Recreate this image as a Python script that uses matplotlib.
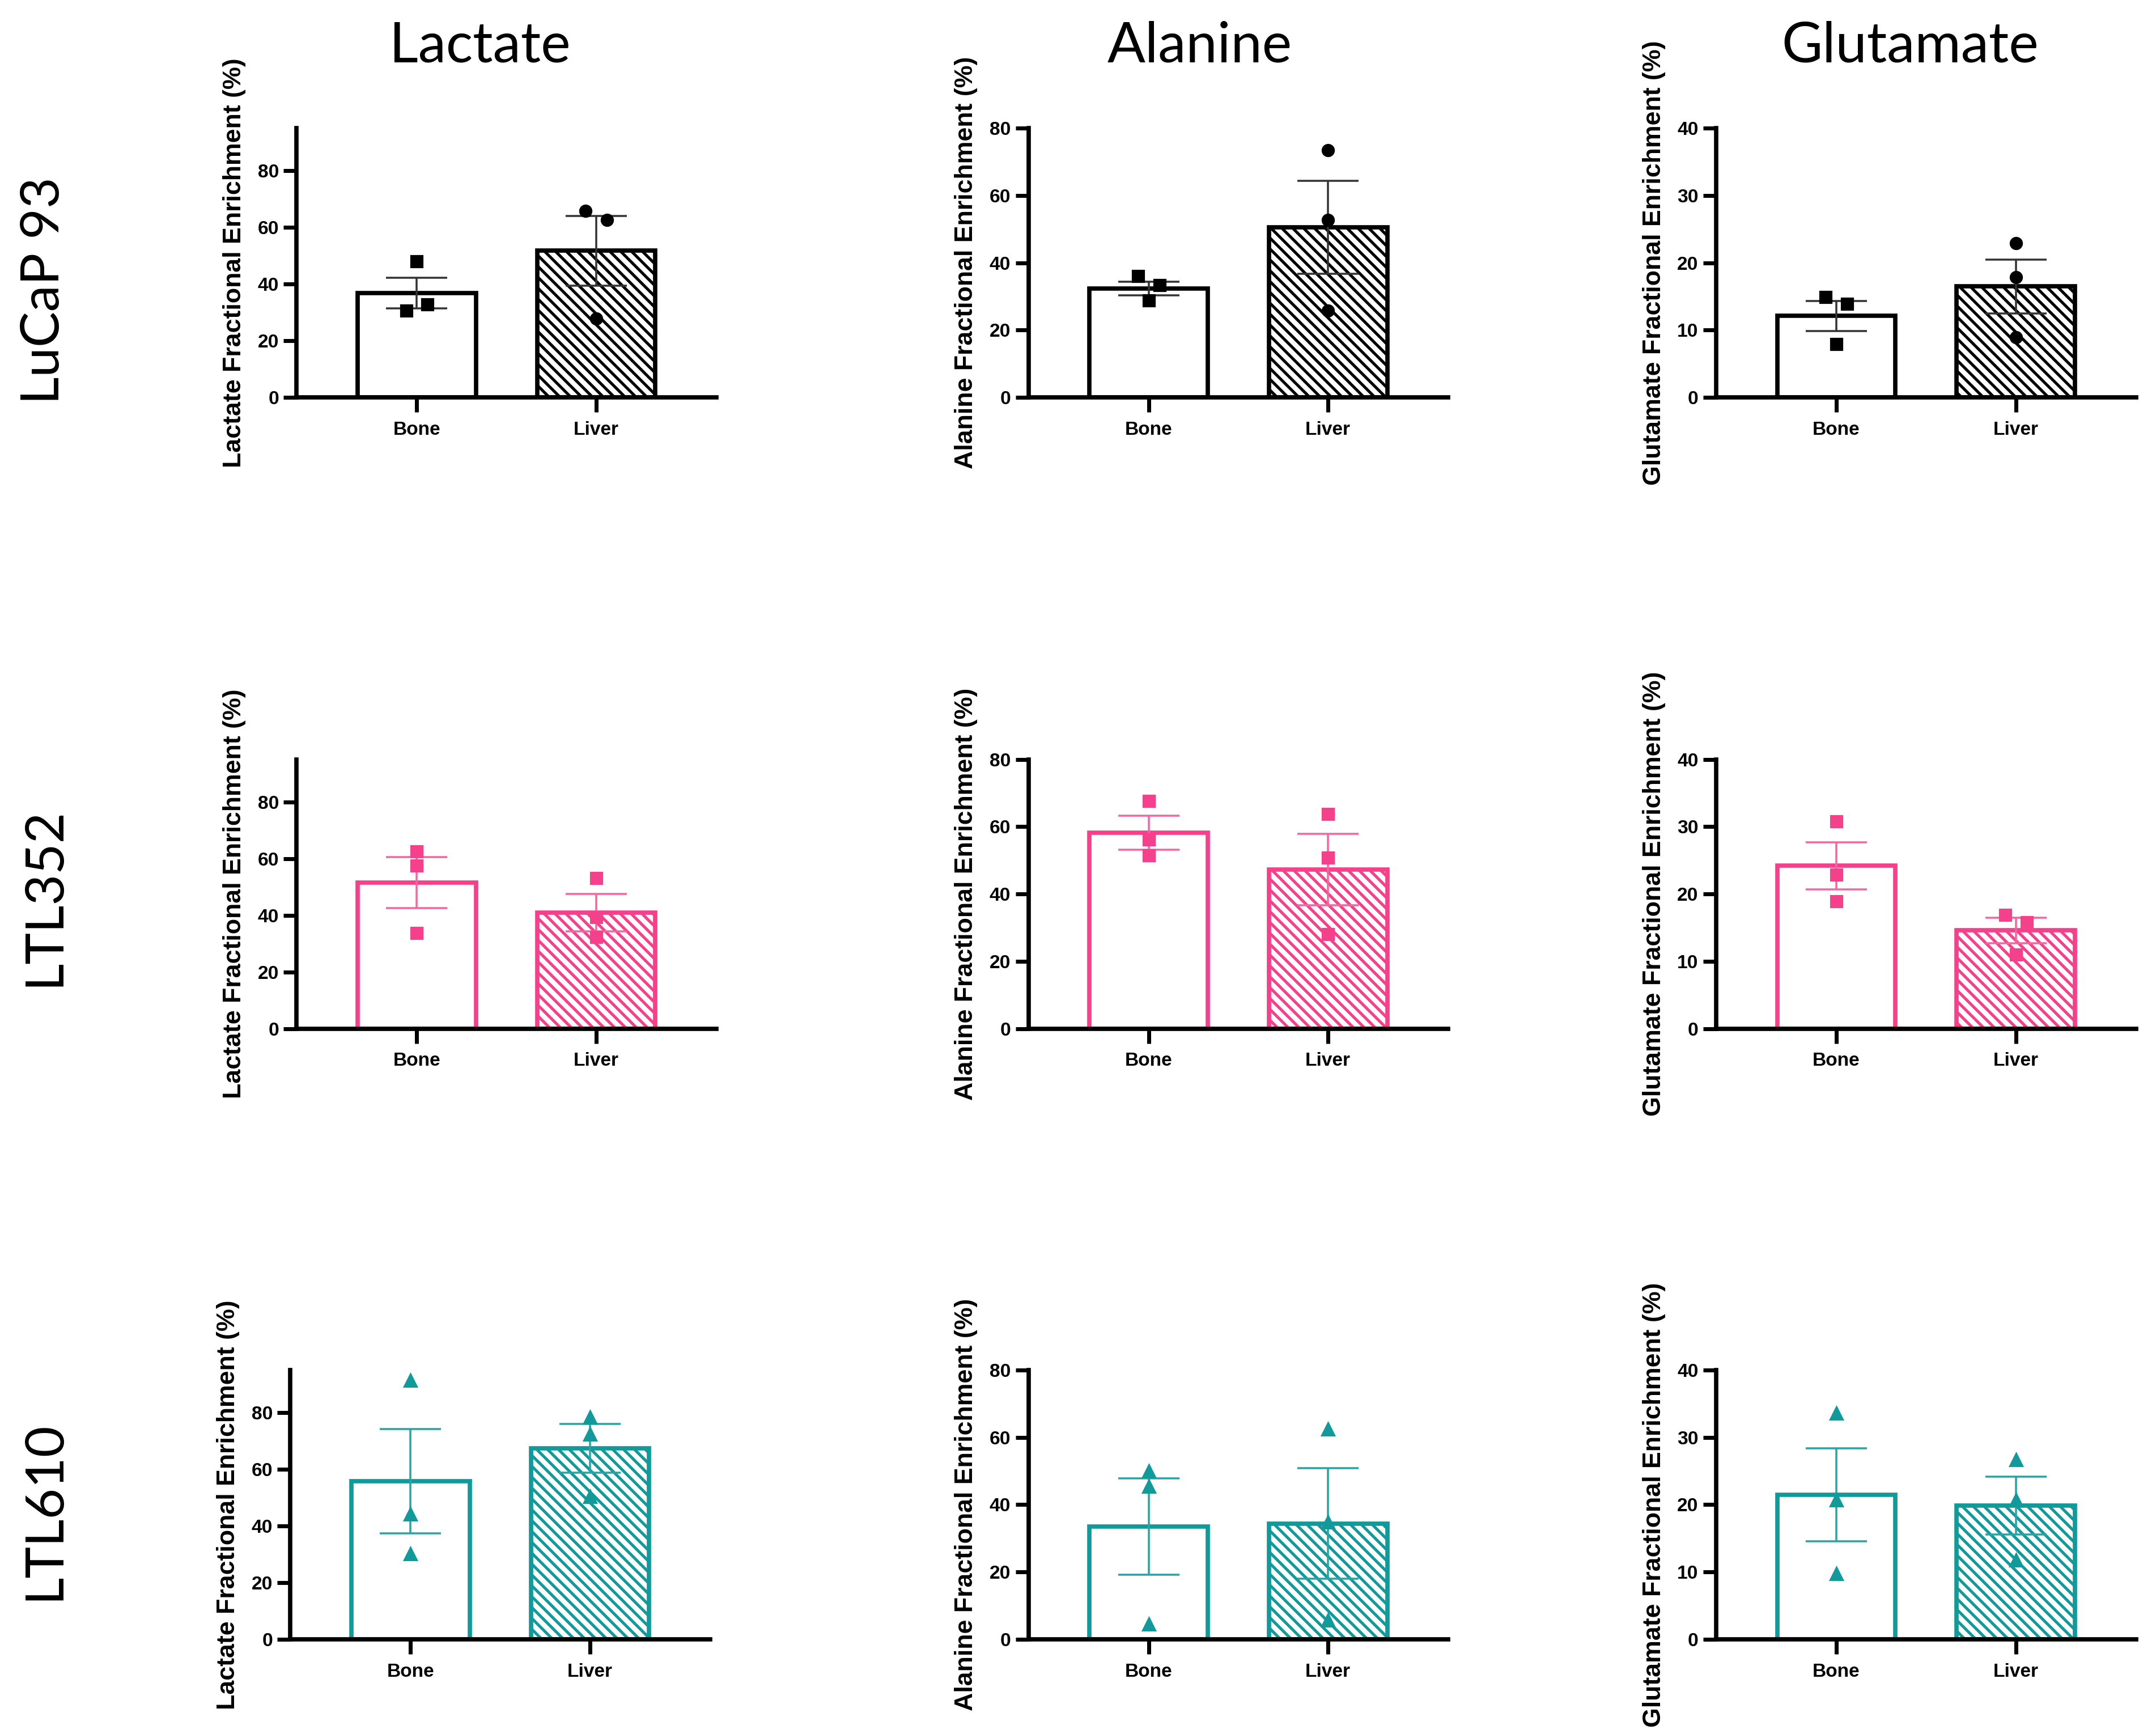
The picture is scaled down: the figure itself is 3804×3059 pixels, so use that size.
import matplotlib
matplotlib.use("Agg")
import matplotlib.pyplot as plt

# ── Data ──────────────────────────────────────────────────────────────────────
ROW_LABELS  = ["LuCaP 93", "LTL352", "LTL610"]
METABOLITES = ["Lactate", "Alanine", "Glutamate"]
SITES       = ["Bone", "Liver"]

# LuCaP 93  (order: Lactate, Alanine, Glutamate)
lucap_bone_mean  = [36.8, 32.4, 12.1]
lucap_bone_sem   = [5.4, 2.0, 2.2]
lucap_liver_mean = [51.8, 50.6, 16.5]
lucap_liver_sem  = [12.3, 13.8, 4.0]
lucap_bone_pts   = [[48.0, 30.6, 32.8], [36.0, 33.4, 28.8], [14.9, 13.9, 7.9]]
lucap_liver_pts  = [[65.8, 62.6, 27.8], [73.5, 52.7, 25.8], [22.9, 17.9, 8.9]]

# LTL352
ltl352_bone_mean  = [51.5, 58.2, 24.2]
ltl352_bone_sem   = [9.0, 5.0, 3.5]
ltl352_liver_mean = [40.9, 47.2, 14.6]
ltl352_liver_sem  = [6.6, 10.6, 1.9]
ltl352_bone_pts   = [[62.5, 57.5, 33.7], [67.6, 56.2, 51.5], [30.8, 22.9, 18.9]]
ltl352_liver_pts  = [[53.1, 39.3, 32.3], [63.8, 50.8, 28.0], [16.9, 15.8, 11.0]]

# LTL610
ltl610_bone_mean  = [55.8, 33.5, 21.5]
ltl610_bone_sem   = [18.4, 14.3, 6.9]
ltl610_liver_mean = [67.4, 34.4, 19.9]
ltl610_liver_sem  = [8.6, 16.4, 4.3]
ltl610_bone_pts   = [[91.3, 44.2, 30.2], [50.0, 45.5, 4.6], [33.6, 20.7, 9.8]]
ltl610_liver_pts  = [[78.4, 72.4, 50.4], [62.5, 34.9, 5.7], [26.7, 20.7, 11.8]]

Y_TOP   = [95, 80, 40]
Y_TICKS = [[0, 20, 40, 60, 80], [0, 20, 40, 60, 80], [0, 10, 20, 30, 40]]

# ── Styling / layout ──────────────────────────────────────────────────────────
DPI         = 230
COLORS      = ["#000000", "#F5418B", "#12999A"]
ERR_COLORS  = ["#333333", "#F2679F", "#2AA3A3"]
BONE_MARK   = ["s", "s", "^"]
LIVER_MARK  = ["o", "s", "^"]
TICK_FONT   = "Liberation Sans"
TITLE_FONT  = "Lato"
HATCH       = chr(92) * 4      # dense back-slash stripes

LEFTS   = [0.1376, 0.4770, 0.7960]
BOTTOMS = [0.7708, 0.4068, 0.0546]
AX_W, AX_H = 0.1947, 0.1553

# sideways nudge of overlapping points (Prism-style scatter)
J = 0.06
JITTER = {
    (0, 0, 0): [0, -J, J], (0, 0, 1): [-J, J, 0],
    (0, 1, 0): [-J, J, 0], (0, 2, 0): [-J, J, 0],
    (1, 2, 1): [-J, J, 0],
}

plt.rcParams["hatch.linewidth"] = 1.6

rows = [
    (lucap_bone_mean, lucap_bone_sem, lucap_liver_mean, lucap_liver_sem, lucap_bone_pts, lucap_liver_pts),
    (ltl352_bone_mean, ltl352_bone_sem, ltl352_liver_mean, ltl352_liver_sem, ltl352_bone_pts, ltl352_liver_pts),
    (ltl610_bone_mean, ltl610_bone_sem, ltl610_liver_mean, ltl610_liver_sem, ltl610_bone_pts, ltl610_liver_pts),
]

fig = plt.figure(figsize=(3804 / DPI, 3059 / DPI), dpi=DPI)
fig.patch.set_facecolor("white")

for r, (bm, bs, lm, ls, bp, lp) in enumerate(rows):
    col = COLORS[r]
    for c, met in enumerate(METABOLITES):
        left = LEFTS[c] - (0.0029 if (r == 2 and c == 0) else 0.0)
        ax = fig.add_axes([left, BOTTOMS[r], AX_W, AX_H])

        ax.bar(0, bm[c], width=0.66, facecolor="white", edgecolor=col,
               linewidth=2.4, zorder=2)
        ax.bar(1, lm[c], width=0.66, facecolor="white", edgecolor=col,
               linewidth=2.4, hatch=HATCH, zorder=2)
        ax.errorbar([0, 1], [bm[c], lm[c]], yerr=[bs[c], ls[c]], fmt="none",
                    ecolor=ERR_COLORS[r], elinewidth=1.1, capsize=17,
                    capthick=1.1, zorder=3)

        for s, (pts, mk) in enumerate([(bp[c], BONE_MARK[r]), (lp[c], LIVER_MARK[r])]):
            offs = JITTER.get((r, c, s), [0, 0, 0])
            xs = [s + o for o in offs]
            ax.plot(xs, pts, linestyle="none", marker=mk, color=col,
                    markersize=6.3 if mk != "^" else 6.8, zorder=4)

        ax.set_xlim(-0.67, 1.67)
        ax.set_ylim(0, Y_TOP[c])
        ax.set_yticks(Y_TICKS[c])
        ax.set_xticks([0, 1])
        ax.set_xticklabels(SITES)

        for side in ("top", "right"):
            ax.spines[side].set_visible(False)
        for side in ("left", "bottom"):
            ax.spines[side].set_linewidth(2.4)
            ax.spines[side].set_capstyle("projecting")

        ax.tick_params(axis="y", length=7.3, width=2.2, pad=2.5,
                       labelsize=10.5)
        ax.tick_params(axis="x", length=8, width=2.2, pad=5,
                       labelsize=10.5)
        for lab in ax.get_xticklabels() + ax.get_yticklabels():
            lab.set_fontfamily(TICK_FONT)
            lab.set_fontweight("bold")

        ax.set_ylabel(f"{met} Fractional Enrichment (%)", fontsize=14,
                      fontweight="bold", family=TICK_FONT, va="center")
        ax.yaxis.set_label_coords(-0.148, 0.5)

# column titles
for x, met in zip([0.2227, 0.5564, 0.8860], METABOLITES):
    fig.text(x, 0.9735, met, ha="center", va="center", fontsize=31,
             family=TITLE_FONT)

# row labels
for y, lab in zip([0.8323, 0.4830, 0.1290], ROW_LABELS):
    fig.text(0.0205, y, lab, ha="center", va="center", rotation=90,
             fontsize=29.5, family=TITLE_FONT)

fig.savefig("out.png", dpi=DPI)
